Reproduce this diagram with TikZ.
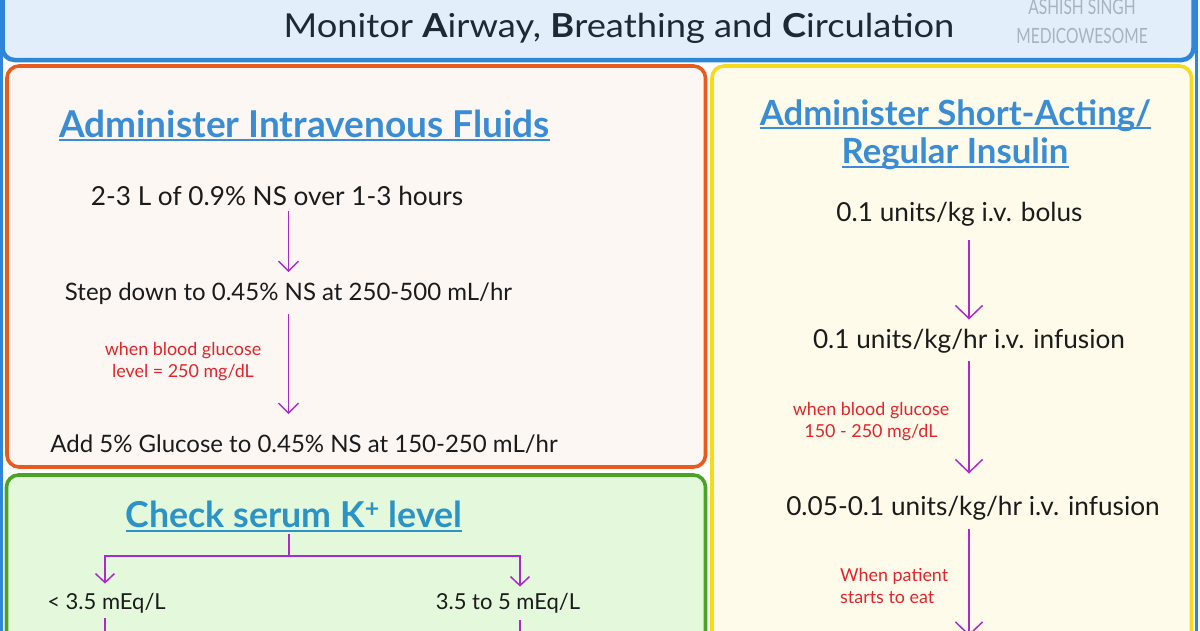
\documentclass[tikz,border=0pt]{standalone}
\usepackage{fontspec}
\setmainfont{Lato}
\usetikzlibrary{arrows.meta}

\definecolor{hdblue}{HTML}{2E86D9}
\definecolor{hdfill}{HTML}{E3EEFB}
\definecolor{orbox}{HTML}{E95A1E}
\definecolor{orfill}{HTML}{FDF7F3}
\definecolor{grbox}{HTML}{4AA324}
\definecolor{grfill}{HTML}{E4F8DC}
\definecolor{yebox}{HTML}{F6DA1E}
\definecolor{yefill}{HTML}{FEFBEA}
\definecolor{ttblue}{HTML}{3A8DD4}
\definecolor{ttteal}{HTML}{2B93C5}
\definecolor{purp}{HTML}{A82BCB}
\definecolor{redtxt}{HTML}{E0262C}
\definecolor{bodytxt}{HTML}{1B1B1B}
\definecolor{hdtxt}{HTML}{1D2936}
\definecolor{wmgray}{HTML}{A9B3BC}

\begin{document}
\begin{tikzpicture}[x=1pt, y=-1pt]
		\tikzset{frame/.style={rounded corners=12pt, line width=3.6pt},
			ttl/.style={inner sep=0pt, anchor=base, font=\bfseries\fontsize{34.7}{40}\selectfont},
			body/.style={inner sep=0pt, anchor=base, text=bodytxt, font=\fontsize{26.2}{30}\selectfont},
			note/.style={inner sep=0pt, anchor=base, text=redtxt, align=center, font=\fontsize{17.9}{22}\selectfont},
			uline/.style={line width=2.6pt},
			ln/.style={draw=purp, line width=1.5pt},
			arrL/.style={ln, -{Straight Barb[length=10pt, width=20pt, line width=1.5pt]}},
			arrR/.style={ln, -{Straight Barb[length=13pt, width=27pt, line width=1.5pt]}},
			arrK/.style={ln, -{Straight Barb[length=9pt, width=19pt, line width=1.5pt]}}};

		\useasboundingbox (0,0) rectangle (1200,630);
		\clip (0,0) rectangle (1200,630);

		% frames
		\fill[white] (0,0) rectangle (1200,630);
		\draw[hdblue, line width=3.5pt] (1.5,-20) -- (1.5,660);
		\draw[hdblue, line width=3.5pt] (1196.5,-20) -- (1196.5,660);
		\draw[frame, draw=hdblue, fill=hdfill, line width=4.5pt] (2.5,-30) rectangle (1193.5,60);
		\draw[frame, draw=orbox, fill=orfill] (7,66) rectangle (705.5,467);
		\draw[frame, draw=grbox, fill=grfill] (6.5,475) rectangle (705.5,680);
		\draw[frame, draw=yebox, fill=yefill] (712,66) rectangle (1191.5,680);

		% header
		\node[inner sep=0pt, anchor=base, text=hdtxt, font=\fontsize{33}{38}\selectfont] (head) at (619,37)
			{\scalebox{1.1}[1]{Monitor \textbf{A}irway, \textbf{B}reathing and \textbf{C}irculation}};
		\node[inner sep=0pt, anchor=base, text=wmgray, font=\fontsize{21}{24}\selectfont] (wm1) at (1082,14)
			{\scalebox{0.74}[1]{ASHISH SINGH}};
		\node[inner sep=0pt, anchor=base, text=wmgray, font=\fontsize{21}{24}\selectfont] (wm2) at (1082,43)
			{\scalebox{0.74}[1]{MEDICOWESOME}};

		% intravenous fluids
		\node[ttl, text=ttblue, font=\bfseries\fontsize{37}{44}\selectfont] (iv) at (304.5,137) {Administer Intravenous Fluids};
		\draw[uline, ttblue] ([yshift=-3pt]iv.base west) -- ([yshift=-3pt]iv.base east);
		\node[body] (f1) at (277,205) {2-3 L of 0.9\% NS over 1-3 hours};
		\node[body, font=\fontsize{24}{28}\selectfont] (f2) at (288.5,300) {Step down to 0.45\% NS at 250-500 mL/hr};
		\node[body, font=\fontsize{24}{28}\selectfont] (f3) at (304,452) {Add 5\% Glucose to 0.45\% NS at 150-250 mL/hr};
		\node[note] (n1) at (183,377) {when blood glucose\\level = 250 mg/dL};

		\draw[arrL, shorten <=6pt, shorten >=10pt] (f2.north |- f1.south) -- (f2.north);
		\draw[arrL, shorten <=10pt, shorten >=20pt] (f2.south) -- (f2.south |- f3.north);

		% insulin
		\node[ttl, text=ttblue] (in1) at (955.5,125) {Administer Short-Acting/};
		\draw[uline, ttblue] ([yshift=-3pt]in1.base west) -- ([yshift=-3pt]in1.base east);
		\node[ttl, text=ttblue] (in2) at (955,163) {Regular Insulin};
		\draw[uline, ttblue] ([yshift=-4pt]in2.base west) -- ([yshift=-4pt]in2.base east);
		\node[body] (r1) at (959.5,221) {0.1 units/kg i.v. bolus};
		\node[body] (r2) at (969,348) {0.1 units/kg/hr i.v. infusion};
		\node[body] (r3) at (973,515) {0.05-0.1 units/kg/hr i.v. infusion};
		\node[note] (n2) at (871,437) {when blood glucose\\150 - 250 mg/dL};
		\node[note, align=left, anchor=base west] (n3) at (840,603) {When patient\\starts to eat};
		\coordinate (rend) at (969,636);

		\draw[arrR, shorten <=14pt, shorten >=9pt] (r2.north |- r1.south) -- (r2.north);
		\draw[arrR, shorten <=8pt, shorten >=22pt] (r2.south) -- (r2.south |- r3.north);
		\draw[arrR, shorten <=9pt] (rend |- r3.south) -- (rend);

		% potassium
		\node[ttl, text=ttteal, font=\bfseries\fontsize{35.7}{42}\selectfont] (k0) at (294,527) {Check serum K\textsuperscript{+} level};
		\draw[uline, ttteal] ([yshift=-4pt]k0.base west) -- ([yshift=-4pt]k0.base east);
		\node[body, font=\fontsize{22}{26}\selectfont] (kl) at (106.5,609) {< 3.5 mEq/L};
		\node[body, font=\fontsize{22}{26}\selectfont] (kr) at (508,609) {3.5 to 5 mEq/L};
		\coordinate (kj) at (289,556);
		\coordinate (klend) at (105,640);
		\coordinate (krend) at (520,640);

		\draw[ln, shorten <=7pt] (kj |- k0.south) -- (kj);
		\draw[arrK, shorten >=9pt] (kj) -| (klend |- kl.north);
		\draw[arrK, shorten >=6pt] (kj) -| (krend |- kr.north);
		\draw[ln, shorten <=5pt] (klend |- kl.south) -- (klend);
		\draw[ln, shorten <=7pt] (krend |- kr.south) -- (krend);
	\end{tikzpicture}
\end{document}
